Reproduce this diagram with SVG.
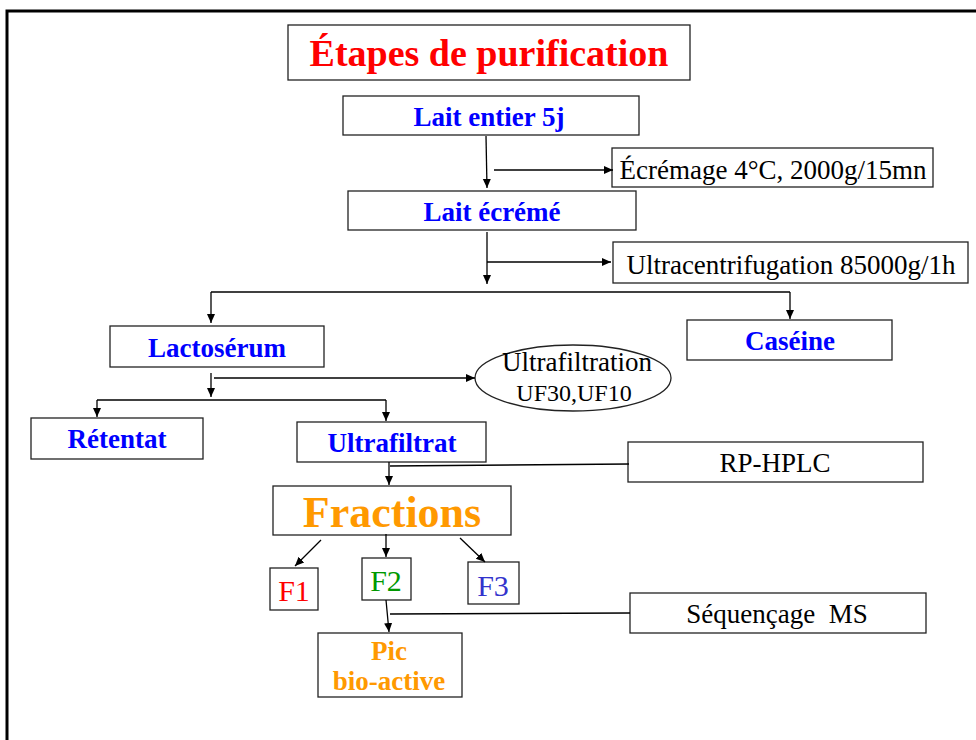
<svg xmlns="http://www.w3.org/2000/svg" width="976" height="740" viewBox="0 0 976 740">
<style>
.box{fill:#fff;stroke:#222;stroke-width:1.3}
.t{font-family:"Liberation Serif","Times New Roman",serif;font-size:27px;text-anchor:middle}
.b{font-weight:bold;fill:#0000ff}
.k{fill:#000}
.o{font-weight:bold;fill:#ff9900}
.ln{fill:none;stroke:#000;stroke-width:1.3}
.ar{fill:none;stroke:#000;stroke-width:1.3;marker-end:url(#ah)}
</style>
<defs>
<marker id="ah" markerUnits="userSpaceOnUse" markerWidth="10" markerHeight="10" refX="9" refY="5" orient="auto">
<path d="M0,1 L9,5 L0,9 Z" fill="#000"/>
</marker>
</defs>
<rect width="976" height="740" fill="#fff"/>
<path d="M7,740 V11 H976" fill="none" stroke="#000" stroke-width="3"/>

<g id="title"><rect class="box" x="288" y="25" width="402" height="55"/><text class="t" x="489" y="66" style="font-size:38px;font-weight:bold;fill:#ff0000">Étapes de purification</text></g>
<g id="lait-entier"><rect class="box" x="343" y="96" width="296" height="39"/><text class="t b" x="489" y="126">Lait entier 5j</text></g>
<g id="ecremage"><rect class="box" x="612" y="148" width="321" height="39"/><text class="t k" x="773" y="179">Écrémage 4°C, 2000g/15mn</text></g>
<g id="lait-ecreme"><rect class="box" x="348" y="191" width="288" height="39"/><text class="t b" x="492" y="221">Lait écrémé</text></g>
<g id="ultracentrifugation"><rect class="box" x="613" y="242" width="355" height="41"/><text class="t k" x="791" y="274">Ultracentrifugation 85000g/1h</text></g>
<g id="lactoserum"><rect class="box" x="110" y="326" width="214" height="41"/><text class="t b" x="217" y="357">Lactosérum</text></g>
<g id="caseine"><rect class="box" x="687" y="320" width="205" height="40"/><text class="t b" x="790" y="350">Caséine</text></g>
<g id="ultrafiltration"><ellipse class="box" cx="573" cy="378" rx="98" ry="33"/><text class="t k" x="577" y="371" style="font-size:27px">Ultrafiltration</text><text class="t k" x="574" y="401" style="font-size:24px">UF30,UF10</text></g>
<g id="retentat"><rect class="box" x="31" y="418" width="172" height="41"/><text class="t b" x="117" y="448">Rétentat</text></g>
<g id="ultrafiltrat"><rect class="box" x="297" y="422" width="189" height="40"/><text class="t b" x="392" y="452">Ultrafiltrat</text></g>
<g id="rp-hplc"><rect class="box" x="628" y="442" width="295" height="40"/><text class="t k" x="775" y="472">RP-HPLC</text></g>
<g id="fractions"><rect class="box" x="273" y="486" width="238" height="49"/><text class="t o" x="392" y="527" style="font-size:44px">Fractions</text></g>
<g id="f1"><rect class="box" x="270" y="568" width="48" height="42"/><text class="t" x="294" y="601" style="font-size:30px;fill:#ff0000">F1</text></g>
<g id="f2"><rect class="box" x="362" y="558" width="49" height="42"/><text class="t" x="386" y="591" style="font-size:30px;fill:#009900">F2</text></g>
<g id="f3"><rect class="box" x="468" y="562" width="51" height="42"/><text class="t" x="493" y="596" style="font-size:30px;fill:#3333cc">F3</text></g>
<g id="sequencage"><rect class="box" x="630" y="593" width="296" height="40"/><text class="t k" x="777" y="623" style="white-space:pre">Séquençage  MS</text></g>
<g id="pic"><rect class="box" x="318" y="633" width="144" height="64"/><text class="t o" x="389" y="660">Pic</text><text class="t o" x="389" y="690">bio-active</text></g>

<g id="connectors">
<path class="ar" d="M486,136 L487,188"/>
<path class="ar" d="M494,170 H613"/>
<path class="ar" d="M487,232 V284"/>
<path class="ar" d="M487,262 H611"/>
<path class="ln" d="M211,292 H790"/>
<path class="ar" d="M211,292 V323"/>
<path class="ar" d="M790,292 V319"/>
<path class="ar" d="M211,373 V397"/>
<path class="ar" d="M214,378 H475"/>
<path class="ln" d="M97,400 H386"/>
<path class="ar" d="M97,400 V417"/>
<path class="ar" d="M386,400 V421"/>
<path class="ar" d="M389,462 V485"/>
<path class="ln" d="M390,466 L629,464"/>
<path class="ar" d="M321,540 L295,566"/>
<path class="ar" d="M386,534 V557"/>
<path class="ar" d="M460,538 L485,562"/>
<path class="ar" d="M386,600 L389,632"/>
<path class="ln" d="M390,614 L630,613"/>
</g>
</svg>
